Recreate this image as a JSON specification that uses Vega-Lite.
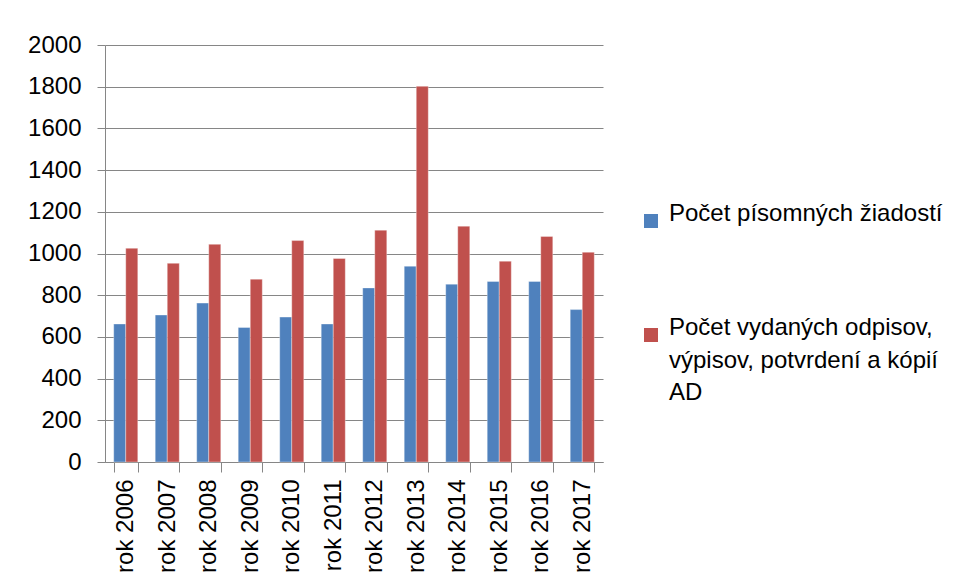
{
  "$schema": "https://vega.github.io/schema/vega-lite/v6.json",
  "width": 498,
  "height": 417,
  "autosize": {"type": "none"},
  "padding": {"left": 105, "top": 45, "right": 354, "bottom": 119},
  "background": "white",
  "data": {
    "values": [
      {"rok": "rok 2006", "s": "Počet písomných žiadostí", "v": 662},
      {"rok": "rok 2006", "s": "Počet vydaných odpisov, výpisov, potvrdení a kópií AD", "v": 1025},
      {"rok": "rok 2007", "s": "Počet písomných žiadostí", "v": 705},
      {"rok": "rok 2007", "s": "Počet vydaných odpisov, výpisov, potvrdení a kópií AD", "v": 953},
      {"rok": "rok 2008", "s": "Počet písomných žiadostí", "v": 762},
      {"rok": "rok 2008", "s": "Počet vydaných odpisov, výpisov, potvrdení a kópií AD", "v": 1044},
      {"rok": "rok 2009", "s": "Počet písomných žiadostí", "v": 645},
      {"rok": "rok 2009", "s": "Počet vydaných odpisov, výpisov, potvrdení a kópií AD", "v": 877},
      {"rok": "rok 2010", "s": "Počet písomných žiadostí", "v": 695},
      {"rok": "rok 2010", "s": "Počet vydaných odpisov, výpisov, potvrdení a kópií AD", "v": 1062},
      {"rok": "rok 2011", "s": "Počet písomných žiadostí", "v": 662},
      {"rok": "rok 2011", "s": "Počet vydaných odpisov, výpisov, potvrdení a kópií AD", "v": 976},
      {"rok": "rok 2012", "s": "Počet písomných žiadostí", "v": 835},
      {"rok": "rok 2012", "s": "Počet vydaných odpisov, výpisov, potvrdení a kópií AD", "v": 1112},
      {"rok": "rok 2013", "s": "Počet písomných žiadostí", "v": 939},
      {"rok": "rok 2013", "s": "Počet vydaných odpisov, výpisov, potvrdení a kópií AD", "v": 1802},
      {"rok": "rok 2014", "s": "Počet písomných žiadostí", "v": 853},
      {"rok": "rok 2014", "s": "Počet vydaných odpisov, výpisov, potvrdení a kópií AD", "v": 1131},
      {"rok": "rok 2015", "s": "Počet písomných žiadostí", "v": 866},
      {"rok": "rok 2015", "s": "Počet vydaných odpisov, výpisov, potvrdení a kópií AD", "v": 963},
      {"rok": "rok 2016", "s": "Počet písomných žiadostí", "v": 866},
      {"rok": "rok 2016", "s": "Počet vydaných odpisov, výpisov, potvrdení a kópií AD", "v": 1082},
      {"rok": "rok 2017", "s": "Počet písomných žiadostí", "v": 731},
      {"rok": "rok 2017", "s": "Počet vydaných odpisov, výpisov, potvrdení a kópií AD", "v": 1006}
    ]
  },
  "mark": {"type": "bar", "stroke": "#ffffff", "strokeOpacity": 0.35, "strokeWidth": 1},
  "encoding": {
    "x": {
      "field": "rok", "type": "nominal", "title": null,
      "scale": {"paddingInner": 0.42, "paddingOuter": 0.21},
      "axis": {
        "labelAngle": -90, "labelFont": "Liberation Sans", "labelFontSize": 24, "labelColor": "#000000",
        "domainColor": "#868686", "tickColor": "#868686", "tickSize": 10, "labelPadding": 7,
        "tickBand": "extent", "grid": false
      }
    },
    "xOffset": {"field": "s", "type": "nominal"},
    "y": {
      "field": "v", "type": "quantitative", "title": null,
      "scale": {"domain": [0, 2000], "nice": false},
      "axis": {
        "values": [0, 200, 400, 600, 800, 1000, 1200, 1400, 1600, 1800, 2000],
        "format": "d",
        "labelFont": "Liberation Sans", "labelFontSize": 24, "labelColor": "#000000",
        "domainColor": "#868686", "tickColor": "#868686", "tickSize": 8, "labelPadding": 16,
        "gridColor": "#868686", "gridWidth": 1
      }
    },
    "color": {
      "field": "s", "type": "nominal", "title": null,
      "scale": {"range": ["#4f81bd", "#c0504d"]},
      "legend": {
        "orient": "none", "legendX": 534, "legendY": 164,
        "symbolType": "square", "symbolSize": 196, "symbolStrokeWidth": 0,
        "labelFont": "Liberation Sans", "labelFontSize": 24, "labelColor": "#000000",
        "labelBaseline": "alphabetic",
        "labelOffset": 6, "labelLimit": 400, "rowPadding": 88,
        "labelExpr": "datum.label == 'Počet písomných žiadostí' ? datum.label : ['Počet vydaných odpisov,', 'výpisov, potvrdení a kópií', 'AD']"
      }
    }
  },
  "config": {
    "view": {"stroke": null},
    "style": {"guide-label": {"lineHeight": 32.5}}
  }
}
